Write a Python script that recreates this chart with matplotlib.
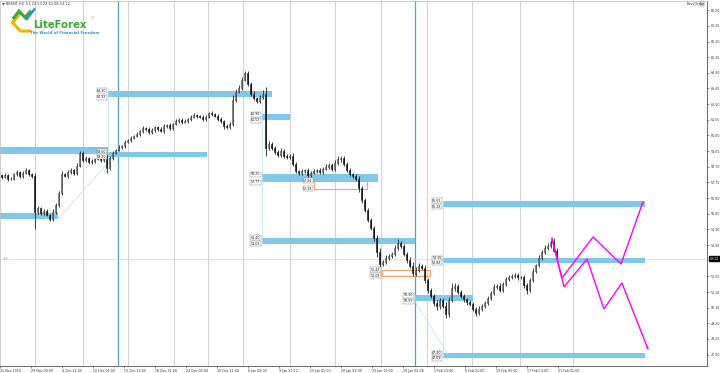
import numpy as np
import matplotlib
matplotlib.use("Agg")
import matplotlib.pyplot as plt
from matplotlib.patches import Rectangle
from matplotlib.lines import Line2D
import matplotlib.transforms as mtransforms

plt.rcParams['font.family'] = ['DejaVu Sans']

# ---------------- data ----------------
first_open = 58.20
closes = [
    58.08, 58.20, 57.96, 57.96, 58.26, 58.38, 58.14, 58.32, 58.50, 58.26,
    58.14, 55.96, 56.20, 55.90, 56.02, 55.78, 55.53, 55.96, 56.38, 57.11,
    58.26, 58.14, 58.38, 58.50, 58.32, 58.75, 59.54, 59.11, 59.23, 58.99,
    59.05, 59.17, 59.23, 59.11, 59.35, 58.63, 59.23, 59.54, 59.72, 59.90,
    59.96, 60.20, 60.32, 60.45, 60.57, 60.69, 60.87, 61.05, 60.99, 60.81,
    60.93, 61.11, 60.99, 60.87, 61.17, 61.23, 61.05, 61.30, 61.48, 61.54,
    61.42, 61.48, 61.60, 61.72, 61.84, 61.78, 61.72, 61.60, 61.72, 61.96,
    61.90, 61.78, 61.60, 61.48, 61.17, 61.11, 61.30, 62.75, 63.24, 63.48,
    63.97, 64.39, 63.72, 63.12, 62.87, 62.69, 62.93, 63.12, 59.84, 60.08,
    59.84, 59.60, 59.41, 59.66, 59.35, 59.29, 59.35, 58.87, 58.44, 58.32,
    58.44, 58.50, 58.20, 58.32, 58.44, 58.50, 58.38, 58.57, 58.69, 58.81,
    58.57, 58.93, 59.17, 59.23, 58.87, 58.50, 58.26, 58.14, 57.96, 57.41,
    56.68, 56.08, 55.47, 54.99, 54.38, 53.53, 52.80, 52.92, 53.17, 53.29,
    53.41, 53.77, 54.07, 53.89, 53.41, 53.04, 52.68, 52.25, 52.44, 52.68,
    52.56, 51.83, 51.22, 50.86, 50.43, 50.25, 50.62, 50.25, 49.77, 50.62,
    51.34, 51.47, 51.10, 50.86, 50.67, 50.49, 50.37, 50.07, 49.83, 50.07,
    50.25, 50.43, 50.74, 51.04, 51.40, 51.47, 51.22, 51.59, 51.89, 52.01,
    52.07, 52.13, 52.01, 52.01, 51.53, 51.22, 51.83, 52.38, 52.74, 53.17,
    53.53, 53.77, 53.89, 54.14, 53.60, 53.12]
# wick lengths in cents
up_wick = [8, 10, 6, 12, 9, 15, 7, 10, 12, 6, 9, 20, 12, 8, 14, 10, 6, 15, 10, 12,
           18, 9, 12, 14, 8, 20, 10, 9, 12, 7, 10, 8, 11, 6, 9, 12, 15, 9, 8, 10,
           7, 12, 9, 10, 6, 11, 8, 14, 9, 10, 12, 8, 7, 13, 10, 9, 11, 8, 12, 10,
           9, 14, 8, 10, 12, 7, 9, 15, 10, 8, 11, 9, 12, 10, 8, 14, 9, 30, 15, 18,
           20, 14, 12, 10, 15, 9, 11, 25, 40, 20, 15, 10, 12, 18, 9, 11, 10, 20, 12, 8,
           14, 9, 11, 10, 13, 8, 12, 10, 15, 9, 12, 18, 16, 10, 12, 9, 11, 8, 14, 20,
           15, 12, 10, 14, 9, 16, 22, 14, 18, 10, 12, 16, 25, 12, 10, 14, 20, 22, 15, 18,
           14, 16, 12, 10, 15, 20, 14, 12, 25, 18, 30, 15, 12, 10, 14, 9, 11, 13, 10, 16,
           12, 15, 10, 14, 18, 12, 16, 10, 12, 15, 14, 10, 11, 9, 12, 10, 14, 18, 9, 15,
           12, 20, 16, 14, 22, 18]
dn_wick = [10, 8, 12, 9, 7, 11, 10, 14, 8, 9, 12, 106, 15, 10, 12, 9, 15, 10, 12, 14,
           10, 8, 11, 9, 12, 10, 8, 13, 9, 11, 10, 12, 8, 9, 11, 30, 10, 12, 8, 9,
           11, 10, 7, 12, 9, 8, 10, 11, 9, 14, 10, 12, 9, 8, 11, 10, 9, 12, 8, 10,
           11, 9, 12, 10, 8, 11, 9, 10, 12, 9, 10, 8, 11, 12, 20, 10, 9, 12, 10, 8,
           11, 9, 14, 12, 10, 13, 9, 11, 50, 15, 12, 10, 14, 9, 11, 10, 12, 15, 10, 12,
           9, 11, 13, 10, 8, 12, 10, 11, 9, 14, 10, 12, 11, 15, 10, 12, 9, 14, 10, 25,
           20, 15, 12, 14, 18, 30, 20, 15, 12, 10, 14, 12, 15, 10, 12, 18, 15, 20, 18, 12,
           14, 20, 20, 15, 18, 25, 15, 12, 25, 20, 15, 18, 14, 12, 16, 15, 12, 14, 20, 15,
           12, 14, 10, 12, 15, 12, 14, 10, 12, 10, 12, 14, 15, 10, 16, 25, 12, 14, 10, 12,
           10, 12, 9, 14, 10, 15]

date_labels = ["25 Nov 2019", "29 Nov 09:00", "4 Dec 21:00", "10 Dec 05:00", "13 Dec 13:00",
               "18 Dec 21:00", "24 Dec 05:00", "30 Dec 21:00", "6 Jan 09:00", "9 Jan 17:00",
               "15 Jan 01:00", "20 Jan 09:00", "23 Jan 13:00", "29 Jan 05:00", "3 Feb 13:00",
               "6 Feb 21:00", "13 Feb 05:00", "17 Feb 13:00", "21 Feb 01:00"]
price_ticks = [68.20, 67.25, 66.30, 65.35, 64.40, 63.45, 62.50, 61.55, 60.60, 59.65,
               58.70, 57.75, 56.80, 55.85, 54.90, 53.95, 52.05, 51.10, 50.15,
               49.20, 48.25, 47.30]
current_price = 53.12

# support/resistance zones (bar index units)
zone_start = [0, 0, 36, 36, 87.3, 87.3, 87.3, 147.7, 147.7, 138.3, 147.7]
zone_end = [36, 19.3, 69, 90.7, 96.7, 126, 138.3, 215, 215, 157.7, 215]
zone_top = [59.90, 55.90, 59.60, 63.30, 61.90, 58.25, 54.40, 56.65, 53.15, 50.90, 47.40]
zone_bottom = [59.48, 55.53, 59.30, 62.93, 61.52, 57.77, 54.03, 56.28, 52.88, 50.55, 47.09]
zone_labeled = [False, False, True, True, True, True, True, True, True, True, True]

orange_start = [104.7, 127.3]
orange_end = [122.3, 143.3]
orange_top = [57.84, 52.44]
orange_bottom = [57.38, 52.08]

separators = [11.7, 27.7, 42.7, 58.0, 69.3, 81.0, 96.7, 111.7, 127.0, 142.3, 157.3, 173.3, 191.0]
blue_vlines = [39.3, 138.3]

# thin helper lines (drawing objects)
helper_x = [[36, 36], [87.3, 87.3], [147.7, 147.7], [19.3, 36], [138.3, 149.3]]
helper_y = [[63.36, 58.93], [63.30, 54.03], [56.65, 47.09], [55.53, 58.93], [50.55, 47.30]]

# forecast paths
fc_up_x = [184.0, 187.3, 197.7, 207.0, 214.3]
fc_up_y = [54.36, 51.95, 54.44, 52.80, 56.56]
fc_dn_x = [184.0, 188.0, 195.7, 201.3, 207.3, 216.0]
fc_dn_y = [54.36, 51.41, 53.10, 50.07, 51.65, 47.64]

# ---------------- figure ----------------
W, H = 720, 373
fig = plt.figure(figsize=(W / 100, H / 100), dpi=100)
fig.patch.set_facecolor('white')
ax = fig.add_axes([0.0, 7 / H, 707 / W, 365 / H])
ax.set_xlim(0, 707 / 3)
ax.set_ylim(68.82 - 366 / 16.48, 68.82 - 1 / 16.48)

# separators
for s in separators:
    ax.axvline(s, color='#d4d4d4', lw=0.8, zorder=1)
for b in blue_vlines:
    ax.axvline(b, color='#5b9bd5', lw=0.9, zorder=1)

# current price line
ax.axhline(current_price, color='#d9d9d9', lw=0.5, zorder=1)

# zones
lbl_box = dict(boxstyle='square,pad=0.15', fc='white', ec='#777777', lw=0.3)
for xs, xe, t, b, lab in zip(zone_start, zone_end, zone_top, zone_bottom, zone_labeled):
    ax.add_patch(Rectangle((xs, b), xe - xs, t - b, facecolor='#80c8ea', edgecolor='none', zorder=2))
    if lab:
        for v in (t, b):
            ax.text(xs - 0.5, v, f"{v:.2f}", fontsize=2.3, ha='right', va='center',
                    color='#222222', bbox=lbl_box, zorder=6)
for xs, xe, t, b in zip(orange_start, orange_end, orange_top, orange_bottom):
    ax.add_patch(Rectangle((xs, b), xe - xs, t - b, facecolor='none', edgecolor='#f4a070',
                           lw=0.8, zorder=3))
    for v in (t, b):
        ax.text(xs - 0.5, v, f"{v:.2f}", fontsize=2.3, ha='right', va='center',
                color='#222222', bbox=lbl_box, zorder=6)

for hx, hy in zip(helper_x, helper_y):
    ax.plot(hx, hy, color='#b9def2', lw=0.5, zorder=2)

# candles
closes_a = np.array(closes)
opens_a = np.concatenate([[first_open], closes_a[:-1]])
highs_a = np.maximum(opens_a, closes_a) + np.array(up_wick) / 100
lows_a = np.minimum(opens_a, closes_a) - np.array(dn_wick) / 100
xs = np.arange(len(closes_a)) + 0.5
bull = closes_a >= opens_a
ax.vlines(xs, lows_a, highs_a, color='#111111', lw=0.55, zorder=4)
body = np.maximum(np.abs(closes_a - opens_a), 0.015)
ax.bar(xs[bull], body[bull], bottom=opens_a[bull], width=0.65, color='white',
       edgecolor='#222222', lw=0.4, zorder=5)
ax.bar(xs[~bull], body[~bull], bottom=closes_a[~bull], width=0.65, color='#111111',
       edgecolor='#111111', lw=0.4, zorder=5)

# forecast arrows
mag = '#ff00ff'
for fx, fy in ((fc_up_x, fc_up_y), (fc_dn_x, fc_dn_y)):
    ax.plot(fx, fy, color=mag, lw=1.0, zorder=7, solid_joinstyle='miter')
    ax.annotate('', xy=(fx[-1], fy[-1]), xytext=(fx[-2], fy[-2]),
                arrowprops=dict(arrowstyle='-|>', color=mag, lw=0.01, mutation_scale=5,
                                shrinkA=0, shrinkB=0), zorder=8)

# axes styling
ax.yaxis.tick_right()
ax.set_yticks(price_ticks)
ax.set_yticklabels([f"{v:.2f}" for v in price_ticks])
ax.tick_params(axis='y', labelsize=2.3, length=1.5, pad=1, width=0.4, colors='#333333')
xt = np.arange(len(date_labels)) * 31 / 3
ax.set_xticks(xt)
ax.set_xticklabels(date_labels)
for tl in ax.get_xticklabels():
    tl.set_ha('left')
ax.tick_params(axis='x', labelsize=2.3, length=1.5, pad=1, width=0.4, colors='#333333')
for sp in ['right', 'bottom']:
    ax.spines[sp].set_color('#555555')
    ax.spines[sp].set_linewidth(0.6)
for sp in ['left', 'top']:
    ax.spines[sp].set_color('#bbbbbb')
    ax.spines[sp].set_linewidth(0.5)

# current price label on axis
trans = mtransforms.blended_transform_factory(ax.transAxes, ax.transData)
ax.text(1.004, current_price, f"{current_price:.2f}", transform=trans, fontsize=2.3,
        color='white', va='center', ha='left',
        bbox=dict(boxstyle='square,pad=0.2', fc='black', ec='black'), clip_on=False)
ax.text(0.004, current_price, "3.3", transform=trans, fontsize=2.6, color='#f08040',
        va='center', ha='left')

# header
def fxy(x, y):
    return x / W, 1 - y / H

fig.text(*fxy(2, 3.5), "\u25BC BRENT,H4  53.23 53.27 53.08 53.12", fontsize=2.5,
         color='#333333', va='center', ha='left')
fig.text(*fxy(687, 3.5), "EasyOrder", fontsize=2.5, color='#333333', va='center', ha='left')
fig.patches.append(Rectangle(fxy(700, 6), 4 / W, 5 / H, transform=fig.transFigure,
                             fc='#dddddd', ec='#888888', lw=0.3))

# logo
def fline(pts, color, lw):
    xsf = [p[0] / W for p in pts]
    ysf = [1 - p[1] / H for p in pts]
    fig.add_artist(Line2D(xsf, ysf, transform=fig.transFigure, color=color, lw=lw,
                          solid_capstyle='butt', solid_joinstyle='miter'))

fline([(20, 14), (12.5, 22.5), (20.5, 31), (31, 31)], '#f2b400', 2.2)
fline([(13, 19), (19, 11), (25, 17.5), (31, 10.5)], '#3aa935', 2.2)
fline([(26, 20), (35, 8.5)], '#2f8fd8', 1.8)
fig.text(*fxy(33, 25), "LiteForex", fontsize=7.3, fontweight='bold', color='#3aa935',
         va='center', ha='left')
fig.text(*fxy(90, 18.5), "\u00AE", fontsize=3, color='#f07050', va='center', ha='left')
fig.text(*fxy(30, 32.5), "The World of Financial Freedom", fontsize=2.8, fontweight='bold',
         color='#2f8fd8', va='center', ha='left')

fig.savefig('out.png', dpi=100, facecolor='white')
